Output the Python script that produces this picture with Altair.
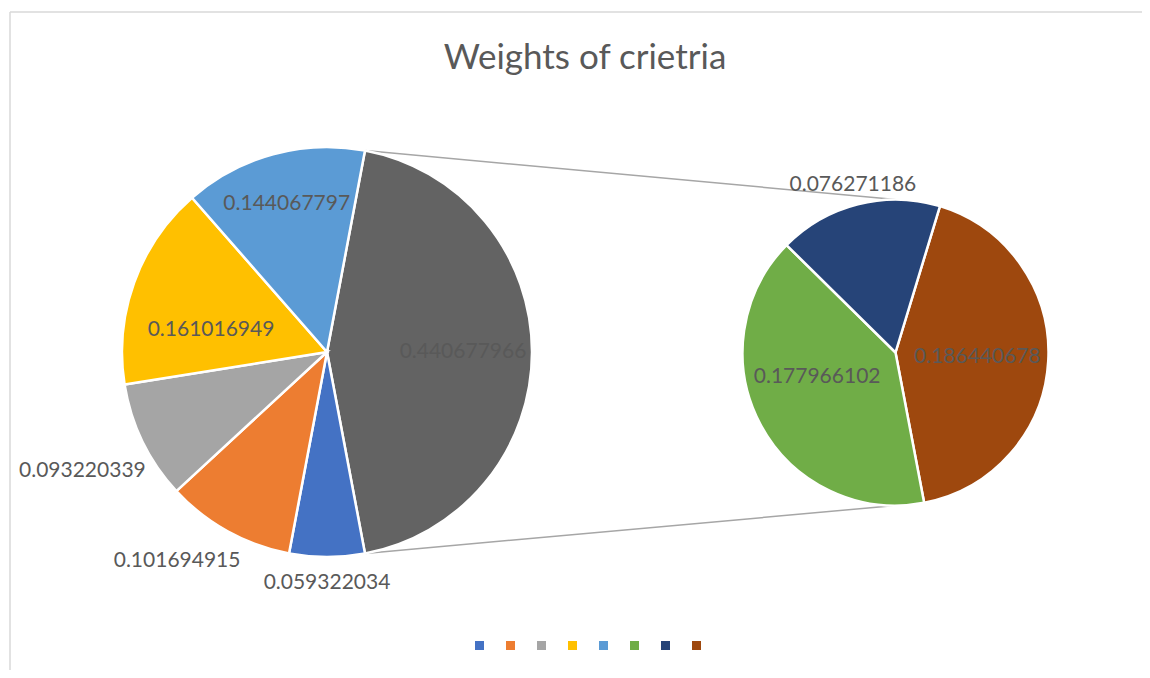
import math
import numpy as np
import pandas as pd
import altair as alt

# ---- data ----
title_text = "Weights of crietria"
main_cats = ["C1", "C2", "C3", "C4", "C5"]
main_vals = [0.059322034, 0.101694915, 0.093220339, 0.161016949, 0.144067797]
main_lbls = ["0.059322034", "0.101694915", "0.093220339", "0.161016949", "0.144067797"]
sub_cats = ["C8", "C6", "C7"]
sub_vals = [0.186440678, 0.177966102, 0.076271186]
sub_lbls = ["0.186440678", "0.177966102", "0.076271186"]
other_lbl = "0.440677966"
legend_cats = ["C1", "C2", "C3", "C4", "C5", "C6", "C7", "C8"]
cat_colors = ["#4472C4", "#ED7D31", "#A5A5A5", "#FFC000", "#5B9BD5", "#70AD47", "#264478", "#9E480E"]
other_color = "#636363"

# ---- layout (pixels, chart coordinates) ----
W, H = 1132, 658
L_CX, L_CY, L_R = 317, 340, 205
R_CX, R_CY, R_R = 885.5, 340.5, 153
R_OFF = math.radians(16.9)
# label placement per slice (layout only): radius in px, angular nudge in degrees
left_label_r = [136, 231, 257, 272, 118, 153]
left_label_nudge = [0, 0, 6.7, 0, -9.2, 0]
right_label_r = [82, 82, 173]
right_label_nudge = [0, 11, 0]
FONT = "Lato"
TXT = "#595959"

other_val = float(np.sum(sub_vals))
L_OFF = math.pi / 2 - math.pi * other_val


def pie_frame(cats, vals, lbls, lr, nudge):
    v = np.array(vals, dtype=float)
    frac = v / v.sum()
    end = np.cumsum(frac)
    start = end - frac
    return pd.DataFrame({"cat": cats, "value": v, "start": start, "end": end,
                         "lt": (start + end) / 2 + np.array(nudge) / 360.0,
                         "label": lbls, "lr": lr})


left_df = pie_frame(["Other"] + main_cats, [other_val] + main_vals, [other_lbl] + main_lbls,
                    left_label_r, left_label_nudge)
right_df = pie_frame(sub_cats, sub_vals, sub_lbls, right_label_r, right_label_nudge)

color_scale = alt.Scale(domain=["Other"] + legend_cats, range=[other_color] + cat_colors)


def pie(df, cx, cy, r, off, legend):
    tscale = alt.Scale(domain=[0, 1], range=[off, off + 2 * math.pi])
    arcs = alt.Chart(df).mark_arc(radius=r, stroke="white", strokeWidth=2.5).encode(
        x=alt.value(cx), y=alt.value(cy),
        theta=alt.Theta("start:Q", scale=tscale),
        theta2="end:Q",
        color=alt.Color("cat:N", scale=color_scale, legend=legend),
    )
    texts = alt.Chart(df).mark_text(font=FONT, fontSize=21, color=TXT, align="center",
                                    baseline="middle").encode(
        x=alt.value(cx), y=alt.value(cy),
        theta=alt.Theta("lt:Q", scale=tscale),
        radius=alt.Radius("lr:Q", scale=None),
        text="label:N",
    )
    return alt.layer(arcs, texts)


legend = alt.Legend(
    values=legend_cats, title=None, orient="none", direction="horizontal",
    legendX=464.5, legendY=628.5, symbolType="square", symbolSize=81,
    symbolStrokeWidth=0, labelExpr="''", labelOffset=0, columnPadding=21,
    padding=0, symbolOpacity=1,
)

left = pie(left_df, L_CX, L_CY, L_R, L_OFF, legend)
right = pie(right_df, R_CX, R_CY, R_R, R_OFF, None)

# connector lines from the "Other" slice edges to top / bottom of second pie
a1 = L_OFF
a2 = L_OFF + 2 * math.pi * (other_val / (other_val + sum(main_vals)))
one = pd.DataFrame({"k": [0]})
conn_top = alt.Chart(one).mark_rule(color="#A6A6A6", strokeWidth=1.5).encode(
    x=alt.value(L_CX + L_R * math.sin(a1)), y=alt.value(L_CY - L_R * math.cos(a1)),
    x2=alt.value(R_CX), y2=alt.value(R_CY - R_R))
conn_bot = alt.Chart(one).mark_rule(color="#A6A6A6", strokeWidth=1.5).encode(
    x=alt.value(L_CX + L_R * math.sin(a2)), y=alt.value(L_CY - L_R * math.cos(a2)),
    x2=alt.value(R_CX), y2=alt.value(R_CY + R_R))

border_top = alt.Chart(one).mark_rule(color="#D9D9D9", strokeWidth=1.5).encode(
    x=alt.value(0), x2=alt.value(W + 20), y=alt.value(0))
border_left = alt.Chart(one).mark_rule(color="#D9D9D9", strokeWidth=1.5).encode(
    x=alt.value(0), y=alt.value(0), y2=alt.value(H + 20))

title = alt.Chart(one).mark_text(font=FONT, fontSize=35, color=TXT, align="center",
                                 baseline="middle").encode(
    x=alt.value(575), y=alt.value(46), text=alt.value(title_text))

chart = alt.layer(border_top, border_left, title, conn_top, conn_bot, left, right).resolve_scale(
    theta="independent"
).properties(
    width=W, height=H, autosize=alt.AutoSizeParams(type="none"),
    padding={"left": 2, "top": 4, "right": 0, "bottom": 0},
).configure_view(stroke=None)

chart.save("out.html", embed_options={"renderer": "svg", "actions": False})
